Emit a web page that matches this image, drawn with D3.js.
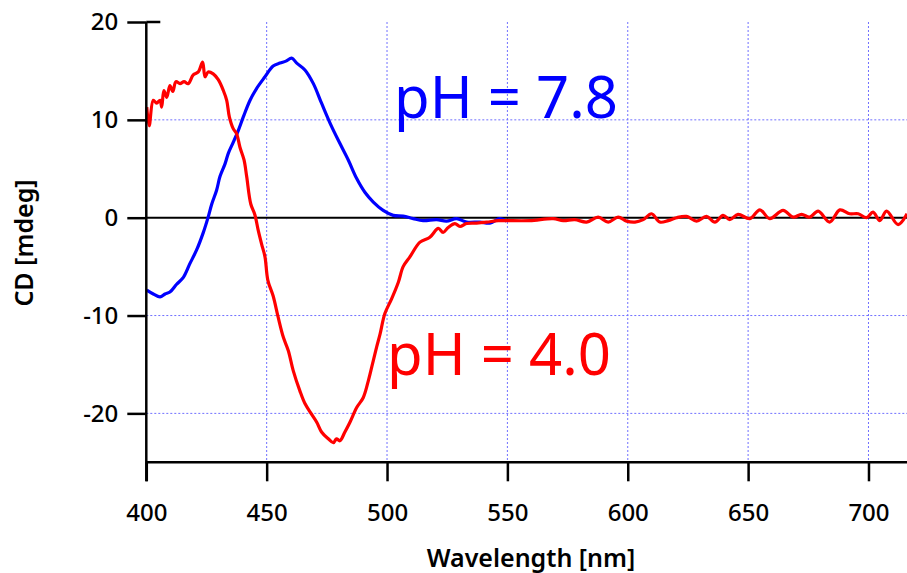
<!DOCTYPE html>
<html>
<head>
<meta charset="utf-8">
<script src="https://cdn.jsdelivr.net/npm/d3@7"></script>
<style>
  html, body { margin: 0; padding: 0; background: white; }
  svg { display: block; }
</style>
</head>
<body>
<div id="chart"></div>
<script>
// CD spectra
const acidWavelength = [400.2, 401.2, 402.9, 404.3, 405.7, 406.4, 407.3, 408.5, 409.8, 411.0,
  412.3, 414.0, 415.7, 417.4, 419.5, 421.6, 423.4, 424.4, 425.7, 427.8,
  429.9, 432.0, 433.4, 434.5, 436.1, 437.5, 438.9, 440.6, 441.7, 443.4,
  445.1, 446.5, 447.9, 449.3, 450.5, 452.7, 454.8, 456.9, 459.0, 461.0,
  463.8, 465.9, 468.7, 470.8, 472.8, 475.6, 477.7, 479.0, 480.4, 482.5,
  484.6, 487.4, 490.1, 492.2, 494.3, 495.7, 497.1, 499.1, 501.9, 504.7,
  506.7, 509.5, 513.7, 517.8, 521.3, 523.3, 525.4, 528.2, 530.3, 533.0,
  537.2, 541.4, 546.2, 549.7, 559.3, 569.0, 573.2, 578.0, 582.9, 587.7,
  591.9, 596.0, 599.5, 603.0, 606.4, 609.9, 613.3, 616.8, 620.3, 624.4,
  628.6, 632.7, 636.2, 639.6, 642.4, 645.8, 650.7, 654.9, 659.0, 664.5,
  668.7, 672.2, 675.6, 679.1, 683.9, 688.1, 692.2, 695.7, 699.2, 701.9,
  704.7, 707.5, 712.3, 716.0];
const acidCD = [11.3, 9.4, 12.0, 11.7, 12.0, 11.3, 13.0, 12.3, 13.5, 12.9,
  13.9, 13.7, 13.9, 13.7, 14.6, 14.9, 15.9, 14.4, 14.9, 14.7,
  14.1, 13.0, 12.0, 10.3, 9.1, 8.6, 7.2, 5.9, 4.2, 1.4,
  0.3, -1.3, -2.7, -4.0, -6.4, -8.0, -10.2, -12.2, -13.6, -15.6,
  -17.7, -19.0, -20.1, -20.9, -21.9, -22.6, -23.0, -22.6, -22.8, -21.9,
  -20.9, -19.4, -18.4, -16.7, -14.6, -13.2, -11.9, -9.8, -8.3, -6.6,
  -5.0, -4.0, -2.5, -2.0, -1.1, -1.5, -1.0, -0.6, -0.9, -0.6,
  -0.55, -0.45, -0.3, -0.3, -0.3, -0.1, -0.3, -0.2, -0.45, 0.05,
  -0.45, 0.06, -0.35, -0.45, -0.2, 0.4, -0.45, -0.3, 0.0, 0.13,
  -0.35, 0.13, -0.45, 0.24, -0.2, 0.34, -0.1, 0.8, -0.1, 0.75,
  0.06, 0.34, 0.06, 0.68, -0.45, 0.8, 0.4, 0.4, 0.0, 0.57,
  -0.3, 0.68, -0.7, 0.4];

const basicWavelength = [400.2, 402.9, 405.7, 407.8, 409.8, 412.6, 415.4, 418.1, 420.9, 423.7,
  425.7, 427.2, 429.2, 430.6, 432.7, 434.1, 436.1, 438.2, 440.3, 443.1,
  445.8, 449.3, 452.7, 455.5, 458.0, 460.4, 462.5, 465.9, 469.4, 472.8,
  477.0, 480.4, 483.9, 487.4, 490.8, 494.3, 498.4, 502.6, 506.7, 510.9,
  515.0, 520.6, 524.7, 528.9, 533.1, 538.6, 542.7, 546.9, 549.7];
const basicCD = [-7.4, -7.8, -8.1, -7.8, -7.6, -6.8, -6.1, -4.7, -3.3, -1.5,
  0.06, 1.4, 2.8, 4.2, 5.5, 6.6, 7.7, 8.9, 10.3, 12.0,
  13.2, 14.4, 15.5, 15.8, 16.0, 16.3, 15.8, 15.1, 13.7, 11.7,
  9.3, 7.6, 5.9, 4.0, 2.6, 1.6, 0.75, 0.24, 0.16, -0.1,
  -0.3, -0.2, -0.35, -0.1, -0.45, -0.45, -0.55, -0.1, -0.35];

const xTicks = [400, 450, 500, 550, 600, 650, 700];
const yTicks = [-20, -10, 0, 10, 20];
const xGrid = [450, 500, 550, 600, 650, 700];
const yGrid = [-20, -10, 10];

const W = 907, H = 573;
const font = "'Noto Sans', sans-serif";

const svg = d3.select("#chart").append("svg")
  .attr("width", W)
  .attr("height", H);

svg.append("rect").attr("width", W).attr("height", H).attr("fill", "white");

const x = d3.scaleLinear().domain([400, 716]).range([146.3, 907]);
const y = d3.scaleLinear().domain([-25, 20]).range([462.3, 22]);

const plotLeft = x(400), plotRight = W, plotTop = y(20), plotBottom = y(-25);

// dotted grid
svg.selectAll(".vgrid")
  .data(xGrid)
  .enter()
  .append("line")
  .attr("x1", d => x(d)).attr("x2", d => x(d))
  .attr("y1", plotTop).attr("y2", plotBottom)
  .attr("stroke", "#7070ff")
  .attr("stroke-width", 1)
  .attr("stroke-dasharray", "2,2");

svg.selectAll(".hgrid")
  .data(yGrid)
  .enter()
  .append("line")
  .attr("x1", plotLeft).attr("x2", plotRight)
  .attr("y1", d => y(d)).attr("y2", d => y(d))
  .attr("stroke", "#7070ff")
  .attr("stroke-width", 1)
  .attr("stroke-dasharray", "2,2");

// zero line
svg.append("line")
  .attr("x1", plotLeft).attr("x2", plotRight)
  .attr("y1", y(0)).attr("y2", y(0))
  .attr("stroke", "black")
  .attr("stroke-width", 2);

// curves
const line = d3.line()
  .x(d => x(d[0]))
  .y(d => y(d[1]))
  .curve(d3.curveCatmullRom.alpha(0.5));

svg.append("path")
  .datum(d3.zip(basicWavelength, basicCD))
  .attr("fill", "none")
  .attr("stroke", "#0000ff")
  .attr("stroke-width", 3.2)
  .attr("stroke-linejoin", "round")
  .attr("d", line);

svg.append("path")
  .datum(d3.zip(acidWavelength, acidCD))
  .attr("fill", "none")
  .attr("stroke", "#ff0000")
  .attr("stroke-width", 3.2)
  .attr("stroke-linejoin", "round")
  .attr("d", line);

// axes
const fmt = d => String(d);   // plain hyphen for negatives, like the reference

const xAxis = d3.axisBottom(x)
  .tickValues(xTicks)
  .tickSize(19)
  .tickPadding(23)
  .tickFormat(fmt);

const xg = svg.append("g")
  .attr("transform", `translate(0,${plotBottom})`)
  .call(xAxis);
xg.select(".domain").attr("d", `M${plotLeft},0H${plotRight}`);

const yAxis = d3.axisLeft(y)
  .tickValues(yTicks)
  .tickSize(19)
  .tickPadding(9)
  .tickFormat(fmt);

const yg = svg.append("g")
  .attr("transform", `translate(${plotLeft},0)`)
  .call(yAxis);
yg.select(".domain").attr("d", `M0,${plotTop}V${plotBottom + 19}`);

// short inner stub at the top tick
yg.append("line")
  .attr("x1", 0).attr("x2", 14)
  .attr("y1", y(20)).attr("y2", y(20))
  .attr("stroke", "black")
  .attr("stroke-width", 2.5);

svg.selectAll(".domain, .tick line")
  .attr("stroke", "black")
  .attr("stroke-width", 2.5);

svg.selectAll(".tick text")
  .attr("font-family", font)
  .attr("font-size", 24)
  .attr("font-weight", 500)
  .attr("fill", "black");

// axis titles
svg.append("text")
  .attr("transform", `translate(33,243) rotate(-90)`)
  .attr("text-anchor", "middle")
  .attr("font-family", font)
  .attr("font-size", 25)
  .attr("font-weight", 600)
  .text("CD [mdeg]");

svg.append("text")
  .attr("x", 531)
  .attr("y", 567)
  .attr("text-anchor", "middle")
  .attr("font-family", font)
  .attr("font-size", 25)
  .attr("font-weight", 600)
  .text("Wavelength [nm]");

// labels
svg.append("text")
  .attr("x", 394)
  .attr("y", 118)
  .attr("font-family", font)
  .attr("font-size", 58)
  .attr("fill", "#0000ff")
  .text("pH = 7.8");

svg.append("text")
  .attr("x", 387)
  .attr("y", 375)
  .attr("font-family", font)
  .attr("font-size", 58)
  .attr("fill", "#ff0000")
  .text("pH = 4.0");
</script>
</body>
</html>
